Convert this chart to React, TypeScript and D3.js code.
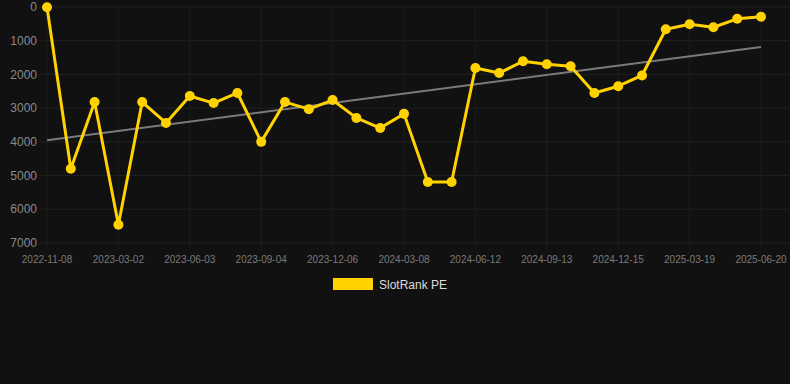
import * as d3 from "d3";
import { useEffect, useRef } from "react";

// SlotRank PE values (lower is better, axis is inverted)
const rankValues = [
  10, 4800, 2820, 6460, 2820, 3440, 2640, 2850, 2550, 4000, 2820, 3030, 2760,
  3290, 3590, 3170, 5190, 5190, 1810, 1960, 1610, 1700, 1760, 2550, 2350, 2030,
  660, 510, 600, 350, 290,
];

// date labels shown on every third point
const tickLabels = [
  "2022-11-08",
  "2023-03-02",
  "2023-06-03",
  "2023-09-04",
  "2023-12-06",
  "2024-03-08",
  "2024-06-12",
  "2024-09-13",
  "2024-12-15",
  "2025-03-19",
  "2025-06-20",
];

const yTicks = [0, 1000, 2000, 3000, 4000, 5000, 6000, 7000];

const seriesName = "SlotRank PE";

export default function App() {
  const svgRef = useRef<SVGSVGElement | null>(null);

  const width = 790;
  const height = 384;

  useEffect(() => {
    const svg = d3.select(svgRef.current);
    svg.selectAll("*").remove();

    const margin = { top: 7, right: 29, bottom: 141, left: 47 };
    const plotWidth = width - margin.left - margin.right;
    const plotHeight = height - margin.top - margin.bottom;
    const font = "'Liberation Sans', Arial, sans-serif";

    svg
      .append("rect")
      .attr("width", width)
      .attr("height", height)
      .attr("fill", "#111111");

    const idx = rankValues.map((_, i) => i);
    const xScale = d3
      .scalePoint<number>()
      .domain(idx)
      .range([0, plotWidth]);
    const yScale = d3.scaleLinear().domain([0, 7000]).range([0, plotHeight]);

    const plot = svg
      .append("g")
      .attr("transform", `translate(${margin.left},${margin.top})`);

    // horizontal grid
    plot
      .selectAll("line.hgrid")
      .data(yTicks)
      .enter()
      .append("line")
      .attr("x1", -8)
      .attr("x2", plotWidth + 28)
      .attr("y1", (d) => yScale(d))
      .attr("y2", (d) => yScale(d))
      .attr("stroke", "#212121")
      .attr("stroke-width", 1);

    // vertical grid at labelled points
    const tickIdx = tickLabels.map((_, i) => i * 3);
    plot
      .selectAll("line.vgrid")
      .data(tickIdx)
      .enter()
      .append("line")
      .attr("x1", (d) => xScale(d)!)
      .attr("x2", (d) => xScale(d)!)
      .attr("y1", 0)
      .attr("y2", plotHeight + 6)
      .attr("stroke", "#1d1d1d")
      .attr("stroke-width", 1);

    // y axis labels
    plot
      .selectAll("text.ylab")
      .data(yTicks)
      .enter()
      .append("text")
      .attr("x", -10)
      .attr("y", (d) => yScale(d))
      .attr("dy", "0.35em")
      .attr("text-anchor", "end")
      .attr("fill", "#8a8a8a")
      .style("font-family", font)
      .style("font-size", "12px")
      .text((d) => d);

    // x axis labels
    plot
      .selectAll("text.xlab")
      .data(tickIdx)
      .enter()
      .append("text")
      .attr("x", (d) => xScale(d)!)
      .attr("y", plotHeight + 20)
      .attr("text-anchor", "middle")
      .attr("fill", "#7a7a7a")
      .style("font-family", font)
      .style("font-size", "10px")
      .text((_, i) => tickLabels[i]);

    // linear trend (least squares)
    const n = rankValues.length;
    const mx = d3.mean(idx)!;
    const my = d3.mean(rankValues)!;
    const slope =
      d3.sum(idx, (i) => (i - mx) * (rankValues[i] - my)) /
      d3.sum(idx, (i) => (i - mx) ** 2);
    const intercept = my - slope * mx;
    plot
      .append("line")
      .attr("x1", xScale(0)!)
      .attr("y1", yScale(intercept))
      .attr("x2", xScale(n - 1)!)
      .attr("y2", yScale(intercept + slope * (n - 1)))
      .attr("stroke", "#7a7a7a")
      .attr("stroke-width", 2);

    // series line
    const line = d3
      .line<number>()
      .x((_, i) => xScale(i)!)
      .y((d) => yScale(d));

    plot
      .append("path")
      .datum(rankValues)
      .attr("fill", "none")
      .attr("stroke", "#ffd200")
      .attr("stroke-width", 3)
      .attr("stroke-linejoin", "round")
      .attr("d", line);

    plot
      .selectAll("circle.pt")
      .data(rankValues)
      .enter()
      .append("circle")
      .attr("cx", (_, i) => xScale(i)!)
      .attr("cy", (d) => yScale(d))
      .attr("r", 5)
      .attr("fill", "#ffd200");

    // legend
    const legend = svg.append("g").attr("transform", "translate(333,278)");
    legend
      .append("rect")
      .attr("width", 40)
      .attr("height", 12)
      .attr("fill", "#ffd200");
    legend
      .append("text")
      .attr("x", 46)
      .attr("y", 10.5)
      .attr("fill", "#dddddd")
      .style("font-family", font)
      .style("font-size", "12px")
      .text(seriesName);
  }, []);

  return (
    <svg
      ref={svgRef}
      width={width}
      height={height}
      style={{ position: "absolute", left: 0, top: 0, display: "block" }}
    ></svg>
  );
}
